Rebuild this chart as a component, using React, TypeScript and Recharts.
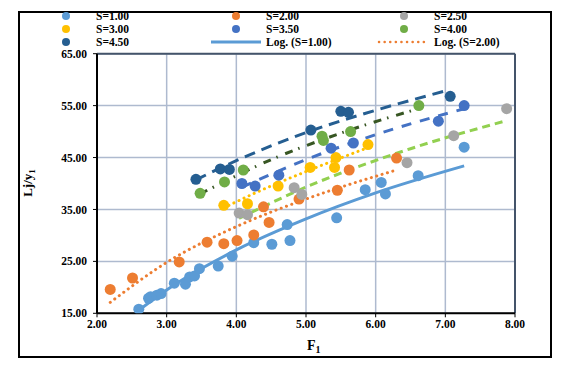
import React from 'react';
import {
  CartesianGrid,
  ComposedChart,
  Line,
  ReferenceLine,
  Scatter,
  XAxis,
  YAxis,
} from 'recharts';

// measured points, [F1, Lj/y1]
const S100: [number, number][] = [
  [2.6, 15.8], [2.74, 17.9], [2.77, 18.2], [2.86, 18.5], [2.92, 18.8],
  [3.11, 20.8], [3.27, 20.6], [3.33, 22.0], [3.4, 22.2], [3.47, 23.6],
  [3.74, 24.1], [3.94, 26.0], [4.25, 28.6], [4.51, 28.3], [4.73, 32.1],
  [4.77, 29.0], [5.44, 33.4], [5.85, 38.8], [6.08, 40.2], [6.14, 38.0],
  [6.61, 41.5], [7.27, 47.0],
];
const S200: [number, number][] = [
  [2.19, 19.6], [2.51, 21.8], [3.18, 24.9], [3.58, 28.7], [3.82, 28.4],
  [4.01, 29.0], [4.25, 30.1], [4.39, 35.5], [4.47, 32.5], [4.9, 37.0],
  [5.45, 38.7], [5.62, 42.6], [6.3, 44.9],
];
const S250: [number, number][] = [
  [4.04, 34.3], [4.16, 34.0], [4.83, 39.2], [4.94, 37.9], [6.45, 44.0],
  [7.12, 49.2], [7.88, 54.4],
];
const S300: [number, number][] = [
  [3.82, 35.8], [4.16, 36.1], [4.6, 39.5], [5.06, 43.1], [5.43, 45.0],
  [5.41, 43.1], [5.89, 47.5],
];
const S350: [number, number][] = [
  [4.08, 40.0], [4.27, 39.5], [4.61, 41.6], [5.36, 46.8], [5.68, 47.8],
  [6.9, 52.0], [7.27, 55.0],
];
const S400: [number, number][] = [
  [3.48, 38.1], [3.83, 40.3], [4.1, 42.6], [5.23, 49.1], [5.25, 48.3],
  [5.64, 50.0], [6.62, 55.0],
];
const S450: [number, number][] = [
  [3.42, 40.8], [3.77, 42.8], [3.9, 42.7], [5.07, 50.3], [5.5, 53.9],
  [5.61, 53.7], [7.07, 56.8],
];

// log trendlines at a few x positions
const LOG100: [number, number][] = [[2.6, 15.6], [3.0, 19.5], [4.0, 27.2], [5.0, 33.2], [6.0, 38.2], [7.27, 43.4]];
const LOG200: [number, number][] = [[2.19, 17.1], [3.0, 24.8], [4.0, 31.7], [5.0, 37.0], [6.3, 42.6]];
const LOG250: [number, number][] = [[4.04, 33.3], [5.0, 39.3], [6.5, 46.7], [7.85, 52.0]];
const LOG300: [number, number][] = [[3.82, 35.3], [4.24, 38.0], [5.0, 42.3], [5.89, 46.9]];
const LOG350: [number, number][] = [[4.08, 39.3], [5.0, 44.6], [6.0, 49.4], [7.27, 54.4]];
const LOG400: [number, number][] = [[3.48, 38.0], [4.5, 44.6], [5.5, 49.7], [6.61, 54.4]];
const LOG450: [number, number][] = [[3.42, 40.7], [4.0, 44.4], [5.0, 49.8], [6.0, 54.1], [7.05, 58.0]];

const X_TICKS = [2, 3, 4, 5, 6, 7, 8];
const Y_TICKS = [15, 25, 35, 45, 55, 65];

const toRows = (pts: [number, number][]) => pts.map(([x, y]) => ({ x, y }));

const SERIES = [
  { name: 'S=1.00', pts: S100, color: '#5B9BD5' },
  { name: 'S=2.00', pts: S200, color: '#ED7D31' },
  { name: 'S=2.50', pts: S250, color: '#A5A5A5' },
  { name: 'S=3.00', pts: S300, color: '#FFC000' },
  { name: 'S=3.50', pts: S350, color: '#4472C4' },
  { name: 'S=4.00', pts: S400, color: '#70AD47' },
  { name: 'S=4.50', pts: S450, color: '#255E91' },
];

const TRENDS = [
  { name: 'Log. (S=1.00)', pts: LOG100, color: '#5B9BD5', dash: undefined, cap: 'butt' },
  { name: 'Log. (S=2.00)', pts: LOG200, color: '#ED7D31', dash: '0.1 5.5', cap: 'round' },
  { name: 'Log. (S=2.50)', pts: LOG250, color: '#92D050', dash: '8 5', cap: 'butt' },
  { name: 'Log. (S=3.00)', pts: LOG300, color: '#FFC000', dash: '0.1 5.5', cap: 'round' },
  { name: 'Log. (S=3.50)', pts: LOG350, color: '#4472C4', dash: '10 9', cap: 'butt' },
  { name: 'Log. (S=4.00)', pts: LOG400, color: '#375623', dash: '8 6 1.5 8', cap: 'butt' },
  { name: 'Log. (S=4.50)', pts: LOG450, color: '#255E91', dash: '11 7', cap: 'butt' },
];

const FONT = '"Liberation Serif", "Times New Roman", serif';
const tickStyle = { fill: '#000', fontSize: 11.5, fontWeight: 700, fontFamily: FONT };

const LEGEND_COLS = [66, 236, 404];
const LEGEND_ROWS = [16, 29, 42];

function ChartLegend() {
  const items = [...SERIES.map((s) => ({ kind: 'dot', ...s })), ...TRENDS.slice(0, 2).map((t) => ({ kind: 'line', ...t }))];
  return (
    <svg width={567} height={50} style={{ position: 'absolute', left: 0, top: 0 }}>
      {items.map((it: any, i) => {
        const cx = LEGEND_COLS[i % 3];
        const cy = LEGEND_ROWS[Math.floor(i / 3)];
        return (
          <g key={it.name}>
            {it.kind === 'dot' ? (
              <circle cx={cx} cy={cy} r={4} fill={it.color} />
            ) : (
              <line
                x1={cx - 25}
                x2={cx + 25}
                y1={cy}
                y2={cy}
                stroke={it.color}
                strokeWidth={it.dash ? 2.5 : 3}
                strokeDasharray={it.dash}
                strokeLinecap={it.cap}
              />
            )}
            <text x={cx + 30} y={cy + 4} style={tickStyle}>
              {it.name}
            </text>
          </g>
        );
      })}
    </svg>
  );
}

export default function App() {
  return (
    <div style={{ position: 'relative', width: 567, height: 370, margin: -8, background: '#fff' }}>
      <div
        style={{
          position: 'absolute',
          left: 18,
          top: 11,
          width: 534,
          height: 347,
          border: '2px solid #000',
          boxSizing: 'border-box',
        }}
      />
      <div style={{ position: 'absolute', left: 0, top: 0 }}>
        <ComposedChart width={567} height={370} margin={{ top: 53.7, right: 52, bottom: 26.7, left: 37 }}>
          <CartesianGrid stroke="#AEBACF" strokeWidth={1.5} />
          <XAxis
            type="number"
            dataKey="x"
            domain={[2, 8]}
            ticks={X_TICKS}
            tickFormatter={(v: number) => v.toFixed(2)}
            tick={tickStyle}
            axisLine={{ stroke: '#000', strokeWidth: 2 }}
            tickLine={{ stroke: '#000' }}
            tickSize={4}
            tickMargin={3}
            height={30}
            allowDataOverflow
          />
          <YAxis
            type="number"
            domain={[15, 65]}
            ticks={Y_TICKS}
            tickFormatter={(v: number) => v.toFixed(2)}
            tick={tickStyle}
            axisLine={{ stroke: '#000', strokeWidth: 2 }}
            tickLine={{ stroke: '#000' }}
            tickSize={4}
            tickMargin={6}
            width={60}
            allowDataOverflow
          />
          <ReferenceLine y={65} stroke="#44546A" strokeWidth={2} />
          <ReferenceLine x={8} stroke="#44546A" strokeWidth={2} />
          {SERIES.map((s) => (
            <Scatter
              key={s.name}
              name={s.name}
              data={toRows(s.pts)}
              dataKey="y"
              fill={s.color}
              isAnimationActive={false}
              shape={(p: any) => <circle cx={p.cx} cy={p.cy} r={5.5} fill={s.color} />}
            />
          ))}
          {TRENDS.map((t) => (
            <Line
              key={t.name}
              name={t.name}
              data={toRows(t.pts)}
              dataKey="y"
              type="monotone"
              stroke={t.color}
              strokeWidth={3}
              strokeDasharray={t.dash}
              strokeLinecap={t.cap as any}
              dot={false}
              activeDot={false}
              isAnimationActive={false}
            />
          ))}
        </ComposedChart>
      </div>
      <ChartLegend />
      <svg width={567} height={370} style={{ position: 'absolute', left: 0, top: 0, pointerEvents: 'none' }}>
        <text x={307} y={350} style={{ fontFamily: FONT, fontSize: 14, fontWeight: 700 }}>
          F<tspan dy={3} fontSize={10}>1</tspan>
        </text>
        <text
          x={32}
          y={183}
          textAnchor="middle"
          transform="rotate(-90 32 183)"
          style={{ fontFamily: FONT, fontSize: 13, fontWeight: 700 }}
        >
          Lj/y<tspan dy={3} fontSize={9}>1</tspan>
        </text>
      </svg>
    </div>
  );
}
